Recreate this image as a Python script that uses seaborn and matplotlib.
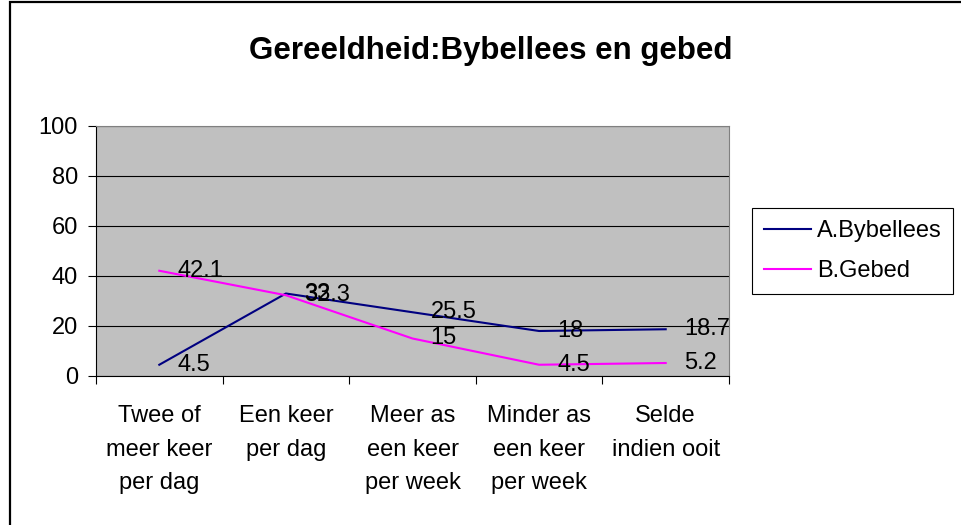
import pandas as pd
import matplotlib.pyplot as plt
import seaborn as sns
from matplotlib.ticker import FixedLocator
from matplotlib.patches import Rectangle

categories = ['Twee of\nmeer keer\nper dag', 'Een keer\nper dag', 'Meer as\neen keer\nper week',
              'Minder as\neen keer\nper week', 'Selde\nindien ooit']
bybellees = [4.5, 33, 25.5, 18, 18.7]
gebed = [42.1, 32.3, 15, 4.5, 5.2]
series_names = ['A.Bybellees', 'B.Gebed']
y_ticks = [0, 20, 40, 60, 80, 100]

df = pd.DataFrame({
    'cat': categories * 2,
    'value': bybellees + gebed,
    'series': [series_names[0]] * 5 + [series_names[1]] * 5,
})

plt.rcParams['font.family'] = ['Liberation Sans', 'DejaVu Sans']
fs = 17

fig = plt.figure(figsize=(9.61, 5.25), dpi=100)
ax = fig.add_axes([96 / 961, 1 - 376 / 525, 633 / 961, 250 / 525])
ax.set_facecolor('#C0C0C0')

sns.lineplot(data=df, x='cat', y='value', hue='series', sort=False,
             palette=['#000080', '#FF00FF'], linewidth=1.5, ax=ax, legend=True)

# data labels
for vals in (bybellees, gebed):
    for i, v in enumerate(vals):
        ax.annotate(f'{v:g}', (i, v), xytext=(13, 0), textcoords='offset points',
                    ha='left', va='center', fontsize=fs, color='black')

ax.set_xlim(-0.5, len(categories) - 0.5)
ax.set_ylim(0, 100)
ax.set_yticks(y_ticks)
ax.yaxis.grid(True, color='black', linewidth=0.8)
ax.set_axisbelow(True)
ax.tick_params(axis='y', labelsize=fs, length=6, width=0.8, pad=7, direction='out')
ax.tick_params(axis='x', which='major', length=0, labelsize=fs, pad=21)
ax.xaxis.set_minor_locator(FixedLocator([i - 0.5 for i in range(len(categories) + 1)]))
ax.tick_params(axis='x', which='minor', length=6, width=0.8, direction='out')
for lbl in ax.get_xticklabels():
    lbl.set_multialignment('center')
    lbl.set_linespacing(1.68)
ax.set_xlabel('')
ax.set_ylabel('')

for side in ('left', 'bottom'):
    ax.spines[side].set_color('black')
    ax.spines[side].set_linewidth(0.8)
for side in ('top', 'right'):
    ax.spines[side].set_color('#808080')
    ax.spines[side].set_linewidth(0.8)

leg = ax.legend(loc='upper left', bbox_to_anchor=(752 / 961, 1 - 208 / 525),
                bbox_transform=fig.transFigure, borderaxespad=0, fontsize=fs,
                frameon=True, fancybox=False, edgecolor='black', framealpha=1,
                handlelength=2.0, handletextpad=0.25, labelspacing=0.78, borderpad=0.5)
leg.get_frame().set_linewidth(0.8)
leg.set_title(None)

fig.text(491 / 961, 1 - 51 / 525, 'Gereeldheid:Bybellees en gebed', ha='center', va='center',
         fontsize=22.5, fontweight='bold')

fig.patches.append(Rectangle((10 / 961, -0.1), 1.2, 1 - 2 / 525 + 0.1, transform=fig.transFigure,
                             fill=False, edgecolor='black', linewidth=1.6))

fig.savefig('out.png', dpi=100)
